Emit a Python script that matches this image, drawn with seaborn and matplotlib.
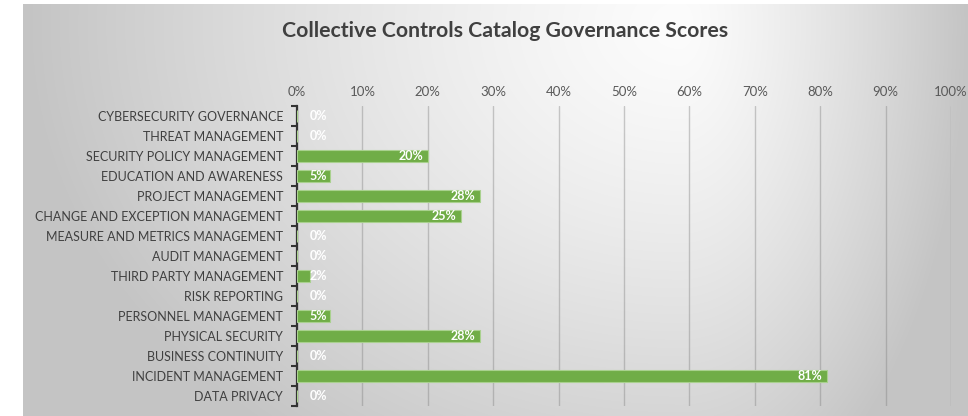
import numpy as np
import matplotlib
matplotlib.use("Agg")
import matplotlib.pyplot as plt
import seaborn as sns

# Governance score per control domain (percent)
categories = [
    "CYBERSECURITY GOVERNANCE",
    "THREAT MANAGEMENT",
    "SECURITY POLICY MANAGEMENT",
    "EDUCATION AND AWARENESS",
    "PROJECT MANAGEMENT",
    "CHANGE AND EXCEPTION MANAGEMENT",
    "MEASURE AND METRICS MANAGEMENT",
    "AUDIT MANAGEMENT",
    "THIRD PARTY MANAGEMENT",
    "RISK REPORTING",
    "PERSONNEL MANAGEMENT",
    "PHYSICAL SECURITY",
    "BUSINESS CONTINUITY",
    "INCIDENT MANAGEMENT",
    "DATA PRIVACY",
]
scores = [0, 0, 20, 5, 28, 25, 0, 0, 2, 0, 5, 28, 0, 81, 0]
x_ticks = [0, 10, 20, 30, 40, 50, 60, 70, 80, 90, 100]
x_tick_labels = [f"{t}%" for t in x_ticks]
title = "Collective Controls Catalog Governance Scores"

sns.set_theme(style="white")
plt.rcParams["font.family"] = ["Lato", "DejaVu Sans"]

W, H, DPI = 968, 416, 100
fig = plt.figure(figsize=(W / DPI, H / DPI), dpi=DPI, facecolor="white")

# Chart-area background: soft off-centre radial shading
x0, y0 = 23, 4
bw, bh = W - x0, H - y0
xx, yy = np.meshgrid(np.arange(bw) + x0, np.arange(bh) + y0)
cx, cy = 680.0, 25.0
u = np.where(xx < cx, (xx - cx) / (cx - x0), (xx - cx) / (W - cx))
v = (yy - cy) / (H - cy)
d = np.clip(np.sqrt(u ** 2 + (0.75 * v) ** 2), 0, 1)
shade = (252 - 56 * d ** 1.3) / 255.0
bg_ax = fig.add_axes([x0 / W, 0, bw / W, bh / H], zorder=0)
bg_ax.imshow(np.dstack([shade] * 3), aspect="auto", interpolation="bilinear")
bg_ax.set_axis_off()

ax = fig.add_axes([297 / W, 1 - 406 / H, (951 - 297) / W, (406 - 106) / H], zorder=1)
ax.set_facecolor("none")

bar_green = "#70ad47"
sns.barplot(x=scores, y=categories, orient="h", color=bar_green, width=0.6,
            saturation=1, edgecolor="#a9d18e", linewidth=0.8, ax=ax, zorder=3)

ax.set_xlim(0, 100)
ax.set_ylim(len(categories) - 0.5, -0.5)
ax.set_xticks(x_ticks)
ax.set_xticklabels(x_tick_labels)
ax.xaxis.tick_top()
ax.tick_params(axis="x", length=0, pad=6, labelsize=9.5, labelcolor="#595959")
ax.tick_params(axis="y", which="major", left=True, length=0, pad=10,
               labelsize=9, labelcolor="#404040")
ax.set_yticks(np.arange(-0.5, len(categories), 1.0), minor=True)
ax.tick_params(axis="y", which="minor", left=True, direction="out",
               length=4, width=1.5, color="#333333")
ax.set_xlabel("")
ax.set_ylabel("")

ax.grid(axis="x", color="#7f7f7f", alpha=0.4, linewidth=1.0, zorder=1)
ax.grid(axis="y", visible=False)
for side in ["top", "right", "bottom"]:
    ax.spines[side].set_visible(False)
ax.spines["left"].set_color("#333333")
ax.spines["left"].set_linewidth(1.6)

# Value labels at the inner end of each bar
for i, val in enumerate(scores):
    ax.text(max(val - 0.7, 4.6), i, f"{val}%", ha="right", va="center",
            color="white", fontsize=9, fontweight="bold", zorder=4)

fig.text(505 / W, 1 - 31 / H, title, ha="center", va="center",
         fontsize=15.3, fontweight="bold", color="#404040")

fig.savefig("out.png", dpi=DPI, facecolor="white")
